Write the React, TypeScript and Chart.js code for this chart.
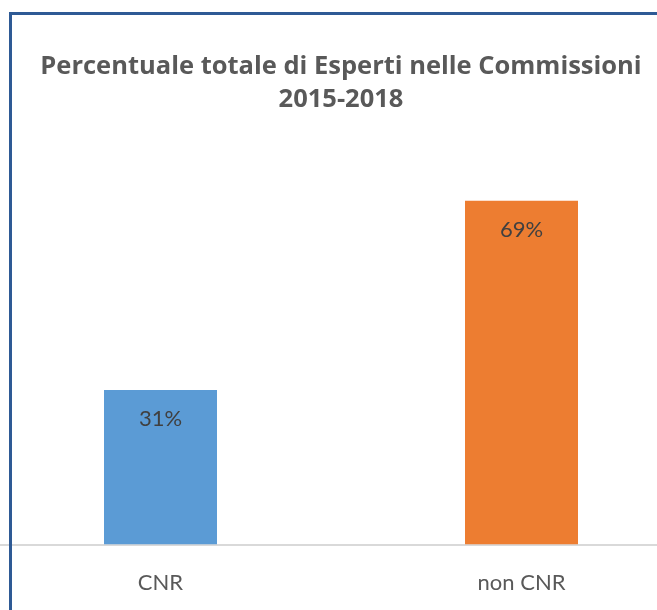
import React, { useEffect, useRef } from "react";
import { Chart, registerables } from "chart.js";

Chart.register(...registerables);

const categories = ["CNR", "non CNR"];
const values = [31, 69];
const barColors = ["#5B9BD5", "#ED7D31"];
const titleLines = ["Percentuale totale di Esperti nelle Commissioni", "2015-2018"];
const yMax = 80;

const FONT = "Lato, 'Open Sans', sans-serif";
const TITLE_FONT = "'Open Sans', Lato, sans-serif";

const valueLabels = {
  id: "valueLabels",
  afterDatasetsDraw(chart: any) {
    const ctx = chart.ctx;
    const meta = chart.getDatasetMeta(0);
    ctx.save();
    ctx.fillStyle = "#404040";
    ctx.font = `22px ${FONT}`;
    ctx.textAlign = "center";
    ctx.textBaseline = "middle";
    meta.data.forEach((bar: any, i: number) => {
      ctx.fillText(`${values[i]}%`, bar.x, bar.y + 29);
    });
    ctx.restore();
  },
};

export default function App() {
  const ref = useRef<HTMLCanvasElement | null>(null);
  useEffect(() => {
    if (!ref.current) return;
    const chart = new Chart(ref.current, {
      type: "bar",
      data: {
        labels: categories,
        datasets: [
          {
            data: values,
            backgroundColor: barColors,
            categoryPercentage: 1,
            barPercentage: 0.313,
          },
        ],
      },
      options: {
        responsive: false,
        animation: false,
        layout: { padding: { left: 0, right: 0, top: 0, bottom: 14 } },
        plugins: {
          legend: { display: false },
          tooltip: { enabled: false },
          title: {
            display: true,
            text: titleLines,
            color: "#595959",
            font: { family: TITLE_FONT, size: 25.5, weight: "bold", lineHeight: 1.3 },
            padding: { top: 50, bottom: 29.5 },
          },
        },
        scales: {
          x: {
            grid: { display: false, drawTicks: false },
            border: { display: true, color: "#D9D9D9", width: 2 },
            ticks: { color: "#595959", font: { family: FONT, size: 22 }, padding: 25 },
          },
          y: { display: false, min: 0, max: yMax },
        },
      },
      plugins: [valueLabels],
    });
    return () => chart.destroy();
  }, []);
  return (
    <div style={{ position: "fixed", left: 0, top: 0, width: 657, height: 610, overflow: "hidden", background: "#fff" }}>
      <canvas ref={ref} width={722} height={635} style={{ position: "absolute", left: -20, top: 0, width: 722, height: 635 }} />
      <div style={{ position: "absolute", left: 9, top: 12, width: 3, height: 600, background: "#2E5A95" }} />
      <div style={{ position: "absolute", left: 9, top: 12, width: 650, height: 3, background: "#2E5A95" }} />
    </div>
  );
}
